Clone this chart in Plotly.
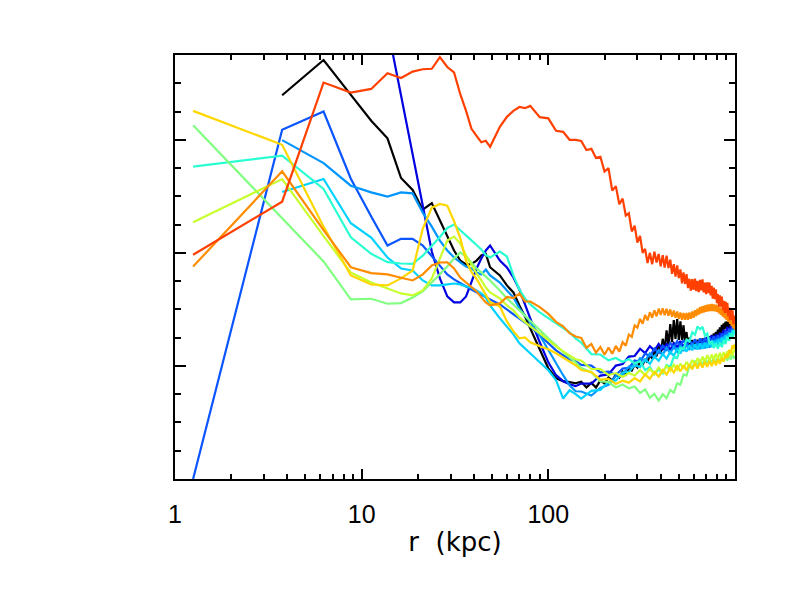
import plotly.graph_objects as go

# radial bins (kpc) inside 140 kpc, shared by all profiles
R_IN = [1.25, 3.75, 6.25, 8.75, 11.25, 13.75, 16.25, 18.75, 21.25, 23.75,
        26.25, 28.75, 31.25, 33.75, 36.25, 38.75, 41.25, 43.75, 46.25, 48.75,
        55, 60, 65, 70, 75, 80, 90, 100, 110, 120, 130, 140]
# outer sampling (150 ... 1000 kpc)
R_TAIL10 = list(range(150, 1001, 10))
R_TAIL20 = list(range(150, 1000, 20)) + [1000]

black_in = [None, 3.394, 3.706, 3.397, 3.168, 3.013, 2.662, 2.556, 2.382, 2.440,
            2.285, 2.153, 2.021, 1.932, 1.897, 1.903, 1.932, 1.977, 1.991, 1.873,
            1.800, 1.712, 1.650, 1.535, 1.438, 1.332, 1.138, 0.979, 0.891, 0.865,
            0.856, 0.847]
black_tail = [0.86, 0.81, 0.85, 0.81, 0.87, 0.845, 0.898, 0.871, 0.925, 0.898,
              0.951, 0.924, 0.98, 0.959, 1.01, 0.986, 1.038, 1.01, 1.061, 1.03,
              1.107, 1.064, 1.14, 1.085, 1.18, 1.106, 1.24, 1.14, 1.315, 1.18,
              1.37, 1.21, 1.405, 1.24, 1.415, 1.23, 1.395, 1.23, 1.36, 1.20,
              1.30, 1.19, 1.25, 1.18, 1.23, 1.16, 1.224, 1.168, 1.231, 1.175,
              1.239, 1.181, 1.243, 1.185, 1.246, 1.188, 1.253, 1.198, 1.264, 1.209,
              1.274, 1.221, 1.288, 1.235, 1.302, 1.249, 1.32, 1.27, 1.341, 1.291,
              1.362, 1.309, 1.376, 1.324, 1.391, 1.338, 1.394, 1.331, 1.387, 1.324,
              1.38, 1.316, 1.373, 1.309, 1.366, 1.312]

dark_blue_in = [None, None, None, None, 4.730, 4.006, 3.397, 2.879, 2.409, 2.012,
                1.774, 1.615, 1.562, 1.562, 1.615, 1.747, 1.862, 1.950, 2.021, 2.065,
                1.932, 1.871, 1.782, 1.676, 1.553, 1.421, 1.209, 1.032, 0.918, 0.865,
                0.838, 0.821]
dark_blue_tail = [0.844, 0.844, 0.915, 0.925, 1.003, 1.017, 1.083, 1.088, 1.152, 1.113,
                  1.175, 1.136, 1.195, 1.147, 1.192, 1.144, 1.203, 1.162, 1.221, 1.171,
                  1.212, 1.157, 1.207, 1.161, 1.218, 1.175, 1.235, 1.196, 1.255, 1.212,
                  1.269, 1.223, 1.276, 1.233, 1.294, 1.254, 1.318, 1.283, 1.343, 1.300,
                  1.357, 1.311, 1.364, 1.321]

blue_in = [0.0, 3.088, 3.250, 2.656, 2.321, 2.065, 2.124, 2.124, 2.065, 1.968,
           1.879, 1.809, 1.765, 1.729, 1.703, 1.676, 1.650, 1.632, 1.606, 1.588,
           1.544, 1.500, 1.456, 1.421, 1.385, 1.350, 1.271, 1.200, 1.138, 1.094,
           1.059, 1.041]
blue_tail = [1.009, 1.003, 0.943, 0.950, 0.920, 0.977, 0.982, 1.048, 1.037, 1.110,
             1.084, 1.153, 1.116, 1.179, 1.142, 1.203, 1.162, 1.218, 1.173, 1.227,
             1.182, 1.234, 1.184, 1.236, 1.189, 1.243, 1.196, 1.249, 1.203, 1.256,
             1.210, 1.264, 1.217, 1.273, 1.230, 1.287, 1.247, 1.308, 1.268, 1.329,
             1.290, 1.350, 1.311, 1.341]

light_blue_in = [None, 2.997, 2.794, 2.594, 2.535, 2.497, 2.535, 2.526, 2.356, 2.232,
                 2.109, 2.021, 1.959, 1.915, 1.879, 1.862, 1.827, 1.809, 1.853, 1.800,
                 1.738, 1.668, 1.606, 1.509, 1.447, 1.385, 1.271, 1.138, 1.024, 0.918,
                 0.829, 0.776]
light_blue_tail = [0.774, 0.738, 0.805, 0.833, 0.911, 0.925, 0.995, 1.000, 1.069, 1.043,
                   1.110, 1.076, 1.139, 1.100, 1.159, 1.115, 1.170, 1.124, 1.179, 1.133,
                   1.188, 1.142, 1.197, 1.149, 1.199, 1.149, 1.202, 1.155, 1.209, 1.162,
                   1.216, 1.173, 1.230, 1.187, 1.244, 1.201, 1.262, 1.223, 1.282, 1.239,
                   1.296, 1.253, 1.310, 1.288]

cyan_in = [None, 2.538, 2.653, 2.262, 2.135, 1.959, 1.862, 1.844, 1.756, 1.712,
           1.712, 1.721, 1.729, 1.721, 1.703, 1.694, 1.668, 1.641, 1.606, 1.535,
           1.421, 1.350, 1.279, 1.200, 1.156, 1.109, 1.032, 0.962, 0.874, 0.712,
           0.785, 0.750]
cyan_tail = [0.711, 0.780, 0.788, 0.858, 0.872, 0.942, 0.947, 1.008, 0.990, 1.057,
             1.019, 1.082, 1.045, 1.106, 1.065, 1.126, 1.089, 1.150, 1.109, 1.168,
             1.127, 1.183, 1.138, 1.192, 1.145, 1.199, 1.152, 1.205, 1.159, 1.212,
             1.166, 1.223, 1.180, 1.237, 1.194, 1.251, 1.212, 1.273, 1.233, 1.294,
             1.254, 1.318, 1.283, 1.315]

aqua_in = [2.762, 2.859, 2.565, 2.138, 1.991, 1.918, 1.906, 1.903, 1.975, 2.060,
           2.140, 2.220, 2.250, 2.200, 2.150, 2.110, 2.070, 2.030, 1.980, 1.960,
           2.012, 1.968, 1.800, 1.676, 1.597, 1.544, 1.474, 1.421, 1.376, 1.332,
           1.297, 1.244]
aqua_tail = [1.206, 1.105, 1.101, 1.049, 1.070, 1.035, 1.061, 1.022, 1.042, 0.963,
             0.990, 0.926, 0.971, 0.932, 1.009, 0.992, 1.081, 1.071, 1.161, 1.149,
             1.234, 1.217, 1.298, 1.275, 1.350, 1.325, 1.347, 1.268, 1.286, 1.201,
             1.216, 1.159, 1.202, 1.152, 1.209, 1.166, 1.230, 1.194, 1.258, 1.223,
             1.287, 1.251, 1.315, 1.297]

green_in = [3.129, 2.307, 1.924, 1.588, 1.594, 1.550, 1.556, 1.606, 1.659, 1.738,
            1.809, 1.879, 1.950, 2.003, 1.968, 1.915, 1.862, 1.827, 1.791, 1.756,
            1.668, 1.597, 1.544, 1.491, 1.447, 1.403, 1.315, 1.244, 1.182, 1.121,
            1.076, 1.032]
green_tail = [0.982, 0.944, 0.863, 0.858, 0.810, 0.836, 0.802, 0.818, 0.760, 0.793,
              0.719, 0.753, 0.694, 0.749, 0.716, 0.788, 0.763, 0.845, 0.835, 0.925,
              0.915, 1.000, 0.980, 1.047, 1.001, 1.055, 1.009, 1.063, 1.016, 1.068,
              1.020, 1.072, 1.024, 1.077, 1.031, 1.085, 1.039, 1.093, 1.047, 1.101,
              1.055, 1.109, 1.063, 1.090]

yellow_green_in = [2.270, 2.653, 2.148, 1.826, 1.738, 1.685, 1.641, 1.624, 1.668, 1.774,
                   1.950, 2.109, 2.144, 2.082, 1.977, 1.888, 1.818, 1.756, 1.694, 1.650,
                   1.597, 1.535, 1.491, 1.429, 1.385, 1.350, 1.288, 1.226, 1.174, 1.129,
                   1.094, 1.059]
yellow_green_tail = [1.047, 0.973, 0.973, 0.920, 0.937, 0.903, 0.937, 0.916, 0.963, 0.919,
                     0.975, 0.930, 0.985, 0.941, 1.000, 0.956, 1.011, 0.965, 1.020, 0.976,
                     1.036, 0.994, 1.053, 1.011, 1.068, 1.025, 1.082, 1.039, 1.095, 1.048,
                     1.101, 1.055, 1.108, 1.062, 1.115, 1.069, 1.123, 1.076, 1.130, 1.083,
                     1.137, 1.091, 1.144, 1.121]

yellow_in = [3.256, 2.956, 2.232, 1.800, 1.720, 1.712, 1.774, 1.844, 2.215, 2.400,
             2.433, 2.418, 2.280, 2.130, 1.930, 1.830, 1.770, 1.700, 1.624, 1.565,
             1.526, 1.394, 1.306, 1.244, 1.253, 1.209, 1.174, 1.147, 1.112, 1.076,
             1.041, 1.006]
yellow_tail = [0.964, 0.947, 0.880, 0.885, 0.840, 0.870, 0.852, 0.893, 0.863, 0.925,
               0.887, 0.947, 0.906, 0.965, 0.924, 0.983, 0.942, 0.998, 0.952, 1.006,
               0.961, 1.015, 0.970, 1.024, 0.977, 1.031, 0.985, 1.038, 0.992, 1.045,
               0.999, 1.052, 1.005, 1.061, 1.018, 1.075, 1.039, 1.103, 1.071, 1.142,
               1.113, 1.184, 1.155, 1.191]

orange_in = [1.879, 2.721, 2.202, 1.873, 1.821, 1.809, 1.780, 1.756, 1.810, 1.888,
             1.915, 1.917, 1.862, 1.782, 1.738, 1.694, 1.659, 1.606, 1.562, 1.535,
             1.553, 1.610, 1.600, 1.640, 1.570, 1.570, 1.520, 1.460, 1.390, 1.350,
             1.290, 1.260]
orange_tail = [1.248, 1.16, 1.195, 1.117, 1.168, 1.099, 1.163, 1.108, 1.177, 1.126,
               1.21, 1.179, 1.278, 1.258, 1.358, 1.338, 1.416, 1.373, 1.451, 1.403,
               1.475, 1.426, 1.492, 1.439, 1.506, 1.452, 1.51, 1.448, 1.506, 1.444,
               1.50, 1.435, 1.49, 1.426, 1.482, 1.417, 1.473, 1.408, 1.468, 1.408,
               1.468, 1.408, 1.473, 1.417, 1.482, 1.426, 1.493, 1.44, 1.507, 1.454,
               1.521, 1.465, 1.528, 1.472, 1.535, 1.479, 1.541, 1.483, 1.544, 1.486,
               1.548, 1.486, 1.544, 1.483, 1.541, 1.479, 1.532, 1.465, 1.518, 1.451,
               1.504, 1.437, 1.49, 1.422, 1.475, 1.408, 1.459, 1.39, 1.442, 1.373,
               1.424, 1.353, 1.403, 1.332, 1.382, 1.321]

red_in = [1.983, 2.453, 3.506, 3.418, 3.450, 3.589, 3.547, 3.603, 3.624, 3.628,
          3.732, 3.644, 3.596, 3.403, 3.256, 3.097, 3.035, 2.978, 2.991, 2.938,
          3.115, 3.203, 3.256, 3.290, 3.280, 3.300, 3.200, 3.190, 3.080, 3.070,
          3.000, 3.000]
red_tail = [2.99, 2.91, 2.92, 2.84, 2.85, 2.72, 2.75, 2.55, 2.59, 2.43,
            2.48, 2.33, 2.35, 2.19, 2.24, 2.09, 2.15, 2.00, 2.035, 1.91,
            2.00, 1.90, 2.01, 1.915, 1.99, 1.88, 1.98, 1.87, 1.975, 1.865,
            1.94, 1.815, 1.90, 1.79, 1.89, 1.777, 1.854, 1.731, 1.828, 1.725,
            1.811, 1.688, 1.771, 1.665, 1.768, 1.672, 1.772, 1.662, 1.752, 1.652,
            1.762, 1.668, 1.765, 1.651, 1.738, 1.634, 1.739, 1.644, 1.738, 1.623,
            1.708, 1.596, 1.693, 1.591, 1.678, 1.556, 1.635, 1.525, 1.624, 1.524,
            1.613, 1.494, 1.575, 1.467, 1.568, 1.469, 1.558, 1.438, 1.517, 1.407,
            1.506, 1.404, 1.491, 1.369, 1.446, 1.374]

SERIES = [
    (R_TAIL10, black_in, black_tail, "#000000"),
    (R_TAIL20, dark_blue_in, dark_blue_tail, "#0000e0"),
    (R_TAIL20, blue_in, blue_tail, "#0a55ff"),
    (R_TAIL20, light_blue_in, light_blue_tail, "#0095ff"),
    (R_TAIL20, cyan_in, cyan_tail, "#00d2ff"),
    (R_TAIL20, aqua_in, aqua_tail, "#2affd2"),
    (R_TAIL20, green_in, green_tail, "#80ff80"),
    (R_TAIL20, yellow_green_in, yellow_green_tail, "#c8ff2e"),
    (R_TAIL20, yellow_in, yellow_tail, "#ffd700"),
    (R_TAIL10, orange_in, orange_tail, "#ff8c00"),
    (R_TAIL10, red_in, red_tail, "#ff4000"),
]

X_TICKS = [1, 10, 100, 1000]
X_TICK_TEXT = ["1", "10", "100", ""]

fig = go.Figure()
for tail_r, vin, vtail, col in SERIES:
    fig.add_trace(go.Scatter(x=R_IN + tail_r, y=vin + vtail, mode="lines",
                             line=dict(color=col, width=2.2),
                             connectgaps=False, showlegend=False,
                             hoverinfo="skip"))

minor_x = [m * 10 ** d for d in range(3) for m in range(2, 10)]

fig.update_layout(
    width=778, height=583,
    paper_bgcolor="white", plot_bgcolor="white",
    margin=dict(l=167, r=51, t=47, b=112, pad=0),
    showlegend=False,
)
fig.update_xaxes(
    type="log", range=[0, 3],
    showline=True, linecolor="black", linewidth=2, mirror="allticks",
    ticks="inside", ticklen=10, tickwidth=2, tickcolor="black",
    tickmode="array", tickvals=X_TICKS, ticktext=X_TICK_TEXT,
    tickfont=dict(family="Liberation Sans", size=25, color="black"),
    ticklabelstandoff=12,
    minor=dict(ticks="inside", ticklen=5, tickwidth=2, tickcolor="black",
               tickmode="array", tickvals=minor_x, showgrid=False),
    showgrid=False, zeroline=False,
    title=dict(text="r\u00a0\u00a0(kpc)", standoff=6,
               font=dict(family="DejaVu Sans", size=26, color="black")),
)
fig.update_yaxes(
    range=[0, 3.75],
    showline=True, linecolor="black", linewidth=2, mirror="allticks",
    ticks="inside", ticklen=11, tickwidth=2, tickcolor="black",
    tick0=0, dtick=1, showticklabels=False,
    minor=dict(ticks="inside", ticklen=6, tickwidth=2, tickcolor="black",
               dtick=0.25, tick0=0, showgrid=False),
    showgrid=False, zeroline=False,
)

fig.write_html("out.html")
